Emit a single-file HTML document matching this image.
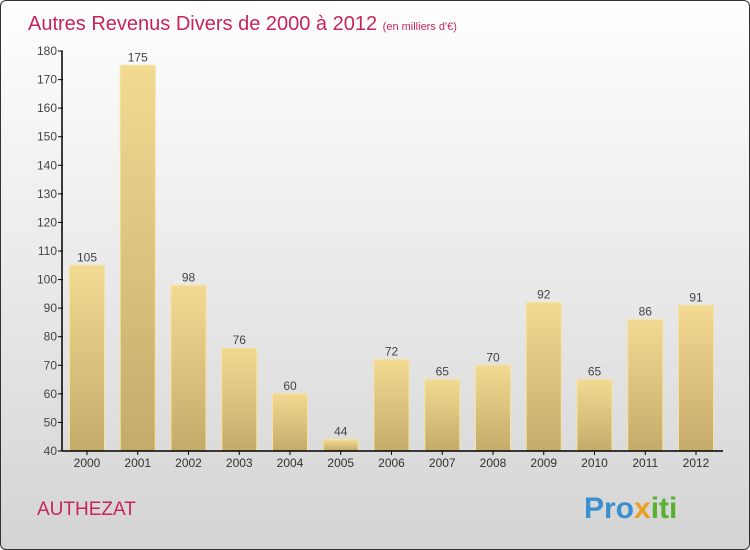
<!DOCTYPE html>
<html><head><meta charset="utf-8"><style>
html,body{margin:0;padding:0;}
body{width:750px;height:550px;overflow:hidden;font-family:"Liberation Sans",sans-serif;}
#frame{position:absolute;left:0;top:0;width:748px;height:548px;border:1px solid #333;border-radius:6px;background:linear-gradient(#ffffff,#d4d4d4);overflow:hidden;}
</style></head><body>
<div id="frame">
<svg id="chart" width="750" height="550">
<defs>
<linearGradient id="bg" x1="0" y1="0" x2="0" y2="1"><stop offset="0" stop-color="#f3da92"/><stop offset="1" stop-color="#c4ab6a"/></linearGradient>
</defs>
<text x="27" y="29" font-size="20" fill="#c8245a" font-family="Liberation Sans, sans-serif">Autres Revenus Divers de 2000 à 2012 <tspan font-size="11">(en milliers d'€)</tspan></text>
<text x="36" y="514" font-size="19" fill="#c8245a">AUTHEZAT</text>
<text x="583" y="517" font-size="30" font-weight="bold" fill="#3a8fd0">Pro<tspan fill="#e8a020">x</tspan><tspan fill="#58b030">iti</tspan></text>
<g id="plot"></g>
</svg>
</div>
<script>
const categories=["2000","2001","2002","2003","2004","2005","2006","2007","2008","2009","2010","2011","2012"];
const values=[105,175,98,76,60,44,72,65,70,92,65,86,91];
const yTicks=[40,50,60,70,80,90,100,110,120,130,140,150,160,170,180];
const NS="http://www.w3.org/2000/svg";
const g=document.getElementById('plot');
const y0=450,yTop=50,vMin=40,vMax=180;
function yScale(v){return y0-(v-vMin)/(vMax-vMin)*(y0-yTop);}
const x0=61,step=50.75,firstC=86,bw=35;
function xScale(i){return firstC+i*step;}
function mk(tag,attrs){const e=document.createElementNS(NS,tag);for(const k in attrs)e.setAttribute(k,attrs[k]);g.appendChild(e);return e;}
categories.forEach((c,i)=>{
  const v=values[i],y=yScale(v),x=xScale(i)-bw/2;
  const r=mk('rect',{x:x,y:y,width:bw,height:y0-y,fill:'url(#bg)',stroke:'#f5e3a0','stroke-width':1});
  
  
  const t=mk('text',{x:xScale(i),y:y-4,'text-anchor':'middle','font-size':12,fill:'#444'});
  t.textContent=v;
  
  
  const xl=mk('text',{x:xScale(i),y:466,'text-anchor':'middle','font-size':12,fill:'#333'});
  xl.textContent=c;
  
  
  const xt=mk('line',{x1:xScale(i),x2:xScale(i),y1:450,y2:454,stroke:'#000'});
  
  
});
yTicks.forEach(v=>{
  const y=yScale(v);
  const tk=mk('line',{x1:57,x2:62,y1:y,y2:y,stroke:'#000'});
  
  
  const t=mk('text',{x:56,y:y+4,'text-anchor':'end','font-size':12,fill:'#444'});
  t.textContent=v;
  
  
});
const ya=mk('line',{x1:x0,x2:x0,y1:yTop,y2:y0,stroke:'#000','stroke-width':1.5});


const xa=mk('line',{x1:x0,x2:722,y1:y0,y2:y0,stroke:'#000','stroke-width':1.5});


</script>
</body></html>
